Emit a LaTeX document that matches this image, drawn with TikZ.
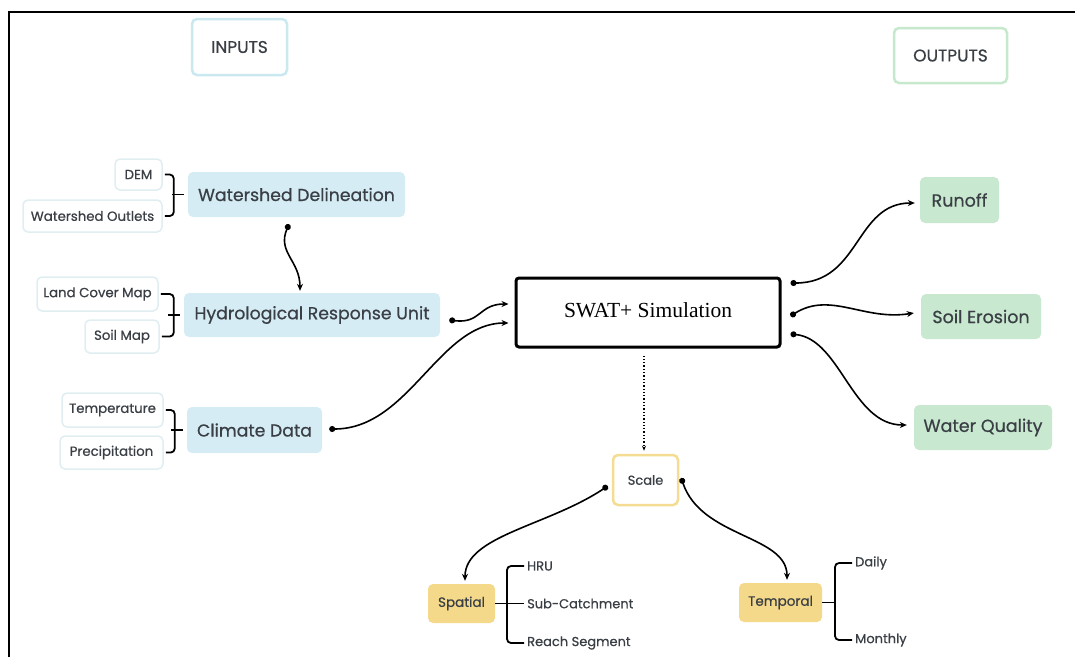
\documentclass[tikz,border=0pt]{standalone}
\usepackage{fontspec}
\setmainfont{Liberation Serif}
\newfontfamily\mont[FakeBold=0.6]{Poppins}
\usetikzlibrary{arrows.meta,calc}
\definecolor{txt}{HTML}{3A3F45}
\definecolor{bluef}{HTML}{D5ECF5}
\definecolor{greenf}{HTML}{C8E8CF}
\definecolor{yellowf}{HTML}{F5D98B}
\definecolor{inb}{HTML}{E0EEF2}
\definecolor{hdblue}{HTML}{C9E8EF}
\definecolor{hdgreen}{HTML}{C6E8CC}
\definecolor{scaleb}{HTML}{F4DD92}
\tikzset{
  base/.style={inner sep=0pt, rounded corners=5pt, text=txt, align=center},
  header/.style={base, fill=white, line width=2.5pt, font=\mont\fontsize{17}{19}\selectfont},
  inbox/.style={base, draw=inb, fill=white, line width=1.5pt, font=\mont\fontsize{13.3}{15}\selectfont},
  bluebox/.style={base, fill=bluef, font=\mont\fontsize{17.3}{20}\selectfont},
  greenbox/.style={base, fill=greenf, font=\mont\fontsize{17.5}{20}\selectfont},
  yellowbox/.style={base, fill=yellowf, font=\mont\fontsize{13.5}{15}\selectfont},
  leaf/.style={inner sep=0pt, anchor=west, text=txt, font=\mont\fontsize{13}{15}\selectfont},
  conn/.style={line width=1.6pt, {Circle[length=6pt]}-{Stealth[length=7pt,width=6pt]}},
  brk/.style={line width=1.8pt, rounded corners=4pt},
}
\begin{document}
\begin{tikzpicture}[x=1pt,y=-1pt]
\useasboundingbox (0,0) rectangle (1075,657);
\draw[line width=2pt] (9,657) -- (9,12) -- (1075,12);

% headers
\node[header, draw=hdblue, minimum width=95pt, minimum height=56pt] (inputs) at (239.5,47) {INPUTS};
\node[header, draw=hdgreen, minimum width=113pt, minimum height=55pt] (outputs) at (950.5,55.5) {OUTPUTS};

% inputs
\node[inbox, minimum width=47pt, minimum height=31pt] (dem) at (138.5,174.5) {DEM};
\node[inbox, minimum width=139pt, minimum height=32pt] (wo) at (92.5,216) {Watershed Outlets};
\node[bluebox, minimum width=217pt, minimum height=45pt] (wd) at (296.5,194.5) {Watershed Delineation};

\node[inbox, minimum width=121pt, minimum height=34pt] (lcm) at (97.5,294) {Land Cover Map};
\node[inbox, minimum width=74pt, minimum height=33pt] (sm) at (122,336.5) {Soil Map};
\node[bluebox, minimum width=256pt, minimum height=44pt] (hru) at (312,315) {Hydrological Response Unit};

\node[inbox, minimum width=101pt, minimum height=34pt] (temp) at (112.5,410) {Temperature};
\node[inbox, minimum width=103pt, minimum height=33pt] (prec) at (111.5,452.5) {Precipitation};
\node[bluebox, minimum width=135pt, minimum height=46pt] (clim) at (254.5,430) {Climate Data};

% brackets inputs
\draw[brk] ([xshift=2pt]dem.east) -- ++(9,0) |- ([xshift=2pt]wo.east);
\draw[brk, rounded corners=0pt] ([xshift=-4pt]wd.west) -- ++(-12,0);
\draw[brk] ([xshift=2pt]lcm.east) -- ++(13,0) |- ([xshift=2pt]sm.east);
\draw[brk, rounded corners=0pt] ([xshift=-4pt]hru.west) -- ++(-12,0);
\draw[brk] ([xshift=2pt]temp.east) -- ++(9,0) |- ([xshift=2pt]prec.east);
\draw[brk, rounded corners=0pt] ([xshift=-4pt]clim.west) -- ++(-12,0);

% central
\node[draw=black, line width=3pt, rounded corners=3pt, fill=white, minimum width=264pt, minimum height=69pt,
      font=\fontsize{21.5}{24}\selectfont, inner sep=0pt] (swat) at (648,312.5) {\raisebox{4pt}{SWAT+ Simulation}};

% outputs
\node[greenbox, minimum width=79pt, minimum height=46pt] (runoff) at (959.5,200) {Runoff};
\node[greenbox, minimum width=120pt, minimum height=45pt] (erosion) at (981,316.5) {Soil Erosion};
\node[greenbox, minimum width=138pt, minimum height=45pt] (wq) at (983,427.5) {Water Quality};

% scale
\node[base, draw=scaleb, line width=2.5pt, fill=white, minimum width=65pt, minimum height=50pt,
      font=\mont\fontsize{13}{15}\selectfont] (scale) at (645.5,480) {Scale};
\node[yellowbox, minimum width=67pt, minimum height=39pt] (spatial) at (461.5,603.5) {Spatial};
\node[yellowbox, minimum width=83pt, minimum height=39pt] (temporal) at (780.5,602.5) {Temporal};

\node[leaf] (hrut) at (527,566) {HRU};
\node[leaf] (sct) at (527,603.5) {Sub-Catchment};
\node[leaf] (rst) at (527,643) {Reach Segment};
\node[leaf] (daily) at (855,563) {Daily};
\node[leaf] (monthly) at (855,640) {Monthly};

\draw[brk] ([xshift=-3pt]hrut.west) -- ++(-17,0) |- ([xshift=-3pt]rst.west);
\draw[brk, rounded corners=0pt] (spatial.east) -- ([xshift=-3pt]sct.west);
\draw[brk] ([xshift=-3pt]daily.west) -- ++(-17,0) |- ([xshift=-3pt]monthly.west);
\draw[brk, rounded corners=0pt] (temporal.east) -- ++(13,0);

% connectors
\draw[conn] ([xshift=-7.5pt,yshift=-7pt]wd.south) .. controls +(-12,28) and +(0,-30) .. ([xshift=-12pt,yshift=2pt]hru.north);
\draw[conn] ([xshift=9pt,yshift=-5pt]hru.east) .. controls +(32,4) and +(-30,0) .. ([xshift=-6pt,yshift=8.5pt]swat.west);
\draw[conn] ([xshift=7pt,yshift=1pt]clim.east) .. controls +(80,0) and +(-70,0) .. ([xshift=-6pt,yshift=-10.5pt]swat.west);

\draw[conn] ([xshift=9pt,yshift=29.5pt]swat.east) .. controls +(70,0) and +(-60,0) .. ([xshift=-5pt,yshift=-3pt]runoff.west);
\draw[conn] ([xshift=9pt,yshift=-3.5pt]swat.east) .. controls +(40,-25) and +(-50,8) .. ([xshift=-7pt,yshift=3.5pt]erosion.west);
\draw[conn] ([xshift=9pt,yshift=-21.5pt]swat.east) .. controls +(50,5) and +(-55,0) .. ([xshift=-7pt,yshift=2.5pt]wq.west);

\draw[line width=1.3pt, dotted, -{Stealth[length=5pt,width=4pt]}] ([xshift=-4pt,yshift=-7pt]swat.south) -- ([xshift=-1.5pt,yshift=3pt]scale.north);

\draw[conn] ([xshift=-4pt,yshift=-6pt]scale.west) .. controls +(-60,40) and +(0,-45) .. ([xshift=3.5pt,yshift=3pt]spatial.north);
\draw[conn] ([xshift=2pt,yshift=2pt]scale.east) .. controls +(20,60) and +(0,-45) .. ([xshift=6.5pt,yshift=3pt]temporal.north);
\end{tikzpicture}
\end{document}
